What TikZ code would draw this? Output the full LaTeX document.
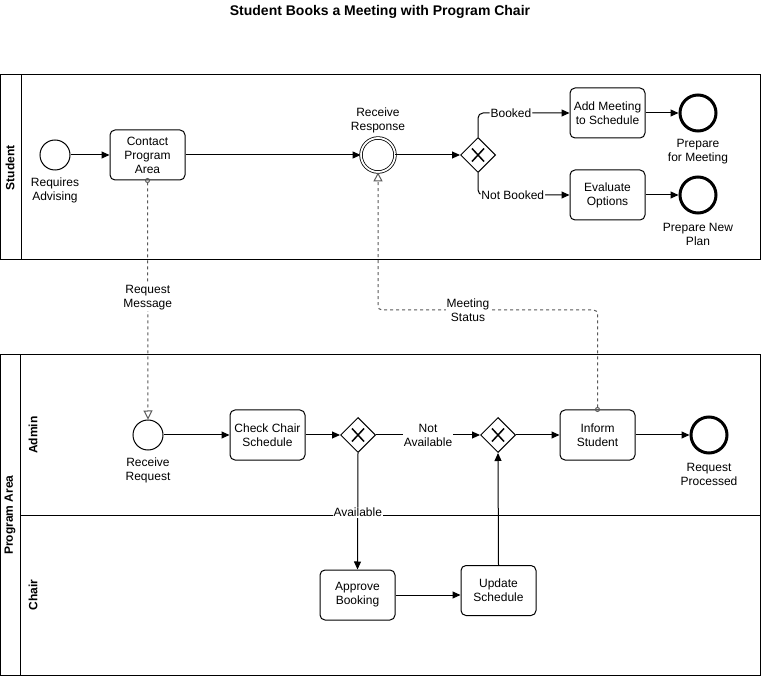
\documentclass[tikz,border=0pt]{standalone}
\usepackage{fontspec}
\setmainfont{Liberation Sans}
\usetikzlibrary{arrows.meta,shapes.geometric}

\begin{document}
\begin{tikzpicture}[x=1pt,y=-1pt,
    every node/.style={font=\fontsize{12}{14}\selectfont, align=center},
    task/.style={draw, rounded corners=5pt, minimum width=75pt, minimum height=50pt, inner sep=2pt, line width=1pt},
    startev/.style={draw, circle, minimum size=30pt, inner sep=0pt, line width=1pt},
    catchev/.style={draw, circle, minimum size=34pt, inner sep=0pt, line width=0.8pt, double, double distance=1.8pt},
    endev/.style={draw, circle, minimum size=36pt, inner sep=0pt, line width=3pt},
    gw/.style={draw, diamond, minimum width=35pt, minimum height=35pt, inner sep=0pt, line width=1pt,
      path picture={\draw[line width=1.5pt]
        ([shift={(-6pt,-6.5pt)}]path picture bounding box.center) -- ([shift={(6pt,6.5pt)}]path picture bounding box.center)
        ([shift={(-6pt,6.5pt)}]path picture bounding box.center) -- ([shift={(6pt,-6.5pt)}]path picture bounding box.center);}},
    seq/.style={-{Triangle[length=8pt,width=7pt]}, line width=1pt},
    msg/.style={{Circle[open,length=5pt,width=5pt]}-{Triangle[open,length=9pt,width=9pt]}, line width=1pt,
      draw=black!65, dash pattern=on 3pt off 3pt, shorten <=-2.5pt},
    lbl/.style={fill=white, inner sep=1pt},
    pool/.style={line width=1pt},
    poolname/.style={rotate=90, font=\bfseries\fontsize{12}{14}\selectfont}]
  \useasboundingbox (0,0) rectangle (761,676);

  % title
  \node[font=\bfseries\fontsize{14}{16}\selectfont] (Title) at (380,12) {Student Books a Meeting with Program Chair};

  % pools and lanes
  \draw[pool] (0,75) rectangle (760,260);
  \draw[pool] (21,75) -- (21,260);
  \draw[pool] (0,355) rectangle (760,675);
  \draw[pool] (20,355) -- (20,675);
  \draw[pool] (20,515) -- (760,515);
  \node[poolname] (StudentName) at (10,168) {Student};
  \node[poolname] (AreaName) at (10,515) {Program Area};
  \node[poolname] (AdminName) at (33,435) {Admin};
  \node[poolname] (ChairName) at (33,595) {Chair};

  % student lane
  \node[startev] (Start) at (55,155) {};
  \node (StartLbl) at (55,190) {Requires\\Advising};
  \node[task] (Contact) at (147.5,155) {Contact\\Program\\Area};
  \node[catchev] (RecvResp) at (378,155) {};
  \node (RecvRespLbl) at (378,120) {Receive\\Response};
  \node[gw] (GwBook) at (478,155) {};
  \node[task] (AddMeet) at (607.5,113) {Add Meeting\\to Schedule};
  \node[task] (EvalOpt) at (607.5,195) {Evaluate\\Options};
  \node[endev] (EndMeet) at (698,113) {};
  \node (EndMeetLbl) at (698,151.5) {Prepare\\for Meeting};
  \node[endev] (EndPlan) at (698,195) {};
  \node (EndPlanLbl) at (698,234) {Prepare New\\Plan};

  % admin lane
  \node[startev] (RecvReq) at (148,435) {};
  \node (RecvReqLbl) at (148,470) {Receive\\Request};
  \node[task] (CheckSched) at (267.5,435) {Check Chair\\Schedule};
  \node[gw] (GwAvail) at (358,435) {};
  \node[gw] (GwJoin) at (498,435) {};
  \node[task] (Inform) at (597.5,435) {Inform\\Student};
  \node[endev] (EndReq) at (709,435) {};
  \node (EndReqLbl) at (709,474) {Request\\Processed};

  % chair lane
  \node[task] (Approve) at (357.5,595) {Approve\\Booking};
  \node[task] (Update) at (498.5,590.5) {Update\\Schedule};

  % sequence flows
  \draw[seq] (Start) -- (Contact);
  \draw[seq] (Contact) -- (RecvResp);
  \draw[seq] (RecvResp) -- (GwBook);
  \draw[seq, rounded corners=5pt] (GwBook.north) |- (AddMeet.west) node[lbl, pos=0.68] {Booked};
  \draw[seq, rounded corners=5pt] (GwBook.south) |- (EvalOpt.west) node[lbl, pos=0.69] {Not Booked};
  \draw[seq] (AddMeet) -- (EndMeet);
  \draw[seq] (EvalOpt) -- (EndPlan);

  \draw[seq] (RecvReq) -- (CheckSched);
  \draw[seq] (CheckSched) -- (GwAvail);
  \draw[seq] (GwAvail) -- (GwJoin) node[lbl, midway] {Not\\Available};
  \draw[seq] (GwJoin) -- (Inform);
  \draw[seq] (Inform) -- (EndReq);
  \draw[seq] (GwAvail.south) -- (Approve.north) node[lbl, pos=0.51] {Available};
  \draw[seq] (Approve.east) -- (Approve.east -| Update.west);
  \draw[seq] (Update.north) -- (GwJoin.south);

  % message flows
  \coordinate (MsgTurn) at (468,310);
  \draw[msg] (Contact.south) -- (RecvReq.north) node[lbl, pos=0.49] {Request\\Message};
  \draw[msg, rounded corners=4pt] (Inform.north) |- (MsgTurn) -| (RecvResp.south);
  \node[lbl] (MsgLbl) at (MsgTurn) {Meeting\\Status};
\end{tikzpicture}
\end{document}
